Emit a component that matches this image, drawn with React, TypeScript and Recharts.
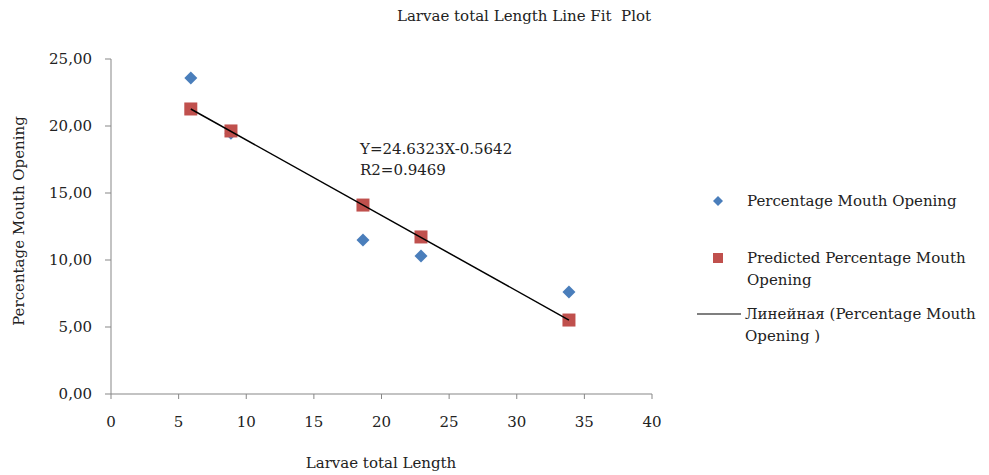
import { ScatterChart, Scatter, XAxis, YAxis } from 'recharts';

// Larvae total length (x) against mouth opening (%)
const lengths = [5.9, 8.87, 18.63, 22.92, 33.86];
const observed = [23.58, 19.45, 11.49, 10.3, 7.61];
const predicted = [21.27, 19.63, 14.1, 11.72, 5.52];
const xTicks = [0, 5, 10, 15, 20, 25, 30, 35, 40];
const yTicks = [0, 5, 10, 15, 20, 25];

const observedData = lengths.map((x, i) => ({ x, y: observed[i] }));
const predictedData = lengths.map((x, i) => ({ x, y: predicted[i] }));
const trendData = [predictedData[0], predictedData[predictedData.length - 1]];

const BLUE = '#4a7ebb';
const RED = '#c0504d';
const AXIS = '#878787';
const FONT = '"DejaVu Serif", "Liberation Serif", serif';

const Diamond = (props: any) => {
  const { cx, cy } = props;
  const r = 6.5;
  return (
    <polygon
      points={`${cx},${cy - r} ${cx + r},${cy} ${cx},${cy + r} ${cx - r},${cy}`}
      fill={BLUE}
    />
  );
};

const Square = (props: any) => {
  const { cx, cy } = props;
  const h = 6.5;
  return <rect x={cx - h} y={cy - h} width={h * 2} height={h * 2} fill={RED} />;
};

const fmtY = (v: number) => v.toFixed(2).replace('.', ',');

const tickStyle = { fill: '#222', fontSize: 15, fontFamily: FONT };

export default function App() {
  return (
    <div style={{ position: 'absolute', left: 0, top: 0, width: 989, height: 475, background: '#fff', fontFamily: FONT, color: '#222', fontSize: 15 }}>
      <ScatterChart width={989} height={475} margin={{ top: 59, right: 337, bottom: 51, left: 0 }}>
        <XAxis
          type="number"
          dataKey="x"
          domain={[0, 40]}
          ticks={xTicks}
          stroke={AXIS}
          tickSize={5}
          tick={tickStyle}
          tickMargin={17}
          height={30}
        />
        <YAxis
          type="number"
          dataKey="y"
          domain={[0, 25]}
          ticks={yTicks}
          tickFormatter={fmtY}
          stroke={AXIS}
          tickSize={6}
          tick={tickStyle}
          tickMargin={13}
          width={111}
        />
        <Scatter data={observedData} shape={Diamond} isAnimationActive={false} />
        <Scatter data={predictedData} shape={Square} isAnimationActive={false} />
        <Scatter
          data={trendData}
          line={{ stroke: '#000', strokeWidth: 1.5 }}
          shape={() => null}
          isAnimationActive={false}
        />
      </ScatterChart>

      <div style={{ position: 'absolute', left: 0, width: 1048, top: 7, textAlign: 'center' }}>
        Larvae total Length Line Fit&nbsp; Plot
      </div>
      <div style={{ position: 'absolute', left: 0, width: 762, top: 454, textAlign: 'center' }}>
        Larvae total Length
      </div>
      <div
        style={{
          position: 'absolute',
          left: 19,
          top: 221,
          whiteSpace: 'nowrap',
          transform: 'translate(-50%, -50%) rotate(-90deg)',
        }}
      >
        Percentage Mouth Opening
      </div>
      <div style={{ position: 'absolute', left: 360, top: 139, lineHeight: '21px' }}>
        Y=24.6323X-0.5642
        <br />
        R2=0.9469
      </div>

      <div style={{ position: 'absolute', left: 695, top: 190, width: 294, lineHeight: '22px' }}>
        <div style={{ position: 'absolute', top: 0, left: 0, display: 'flex' }}>
          <svg width={46} height={22} style={{ flex: 'none' }}>
            <polygon points="23,6 28,11 23,16 18,11" fill={BLUE} />
          </svg>
          <span style={{ marginLeft: 6, whiteSpace: 'nowrap' }}>Percentage Mouth Opening</span>
        </div>
        <div style={{ position: 'absolute', top: 57, left: 0, display: 'flex' }}>
          <svg width={46} height={22} style={{ flex: 'none' }}>
            <rect x={18} y={6} width={10} height={10} fill={RED} />
          </svg>
          <span style={{ marginLeft: 6, whiteSpace: 'nowrap' }}>
            Predicted Percentage Mouth
            <br />
            Opening
          </span>
        </div>
        <div style={{ position: 'absolute', top: 113, left: 0, display: 'flex' }}>
          <svg width={48} height={22} style={{ flex: 'none' }}>
            <line x1={2} y1={11} x2={46} y2={11} stroke="#000" strokeWidth={1.2} />
          </svg>
          <span style={{ marginLeft: 2, whiteSpace: 'nowrap' }}>
            Линейная (Percentage Mouth
            <br />
            Opening )
          </span>
        </div>
      </div>
    </div>
  );
}
